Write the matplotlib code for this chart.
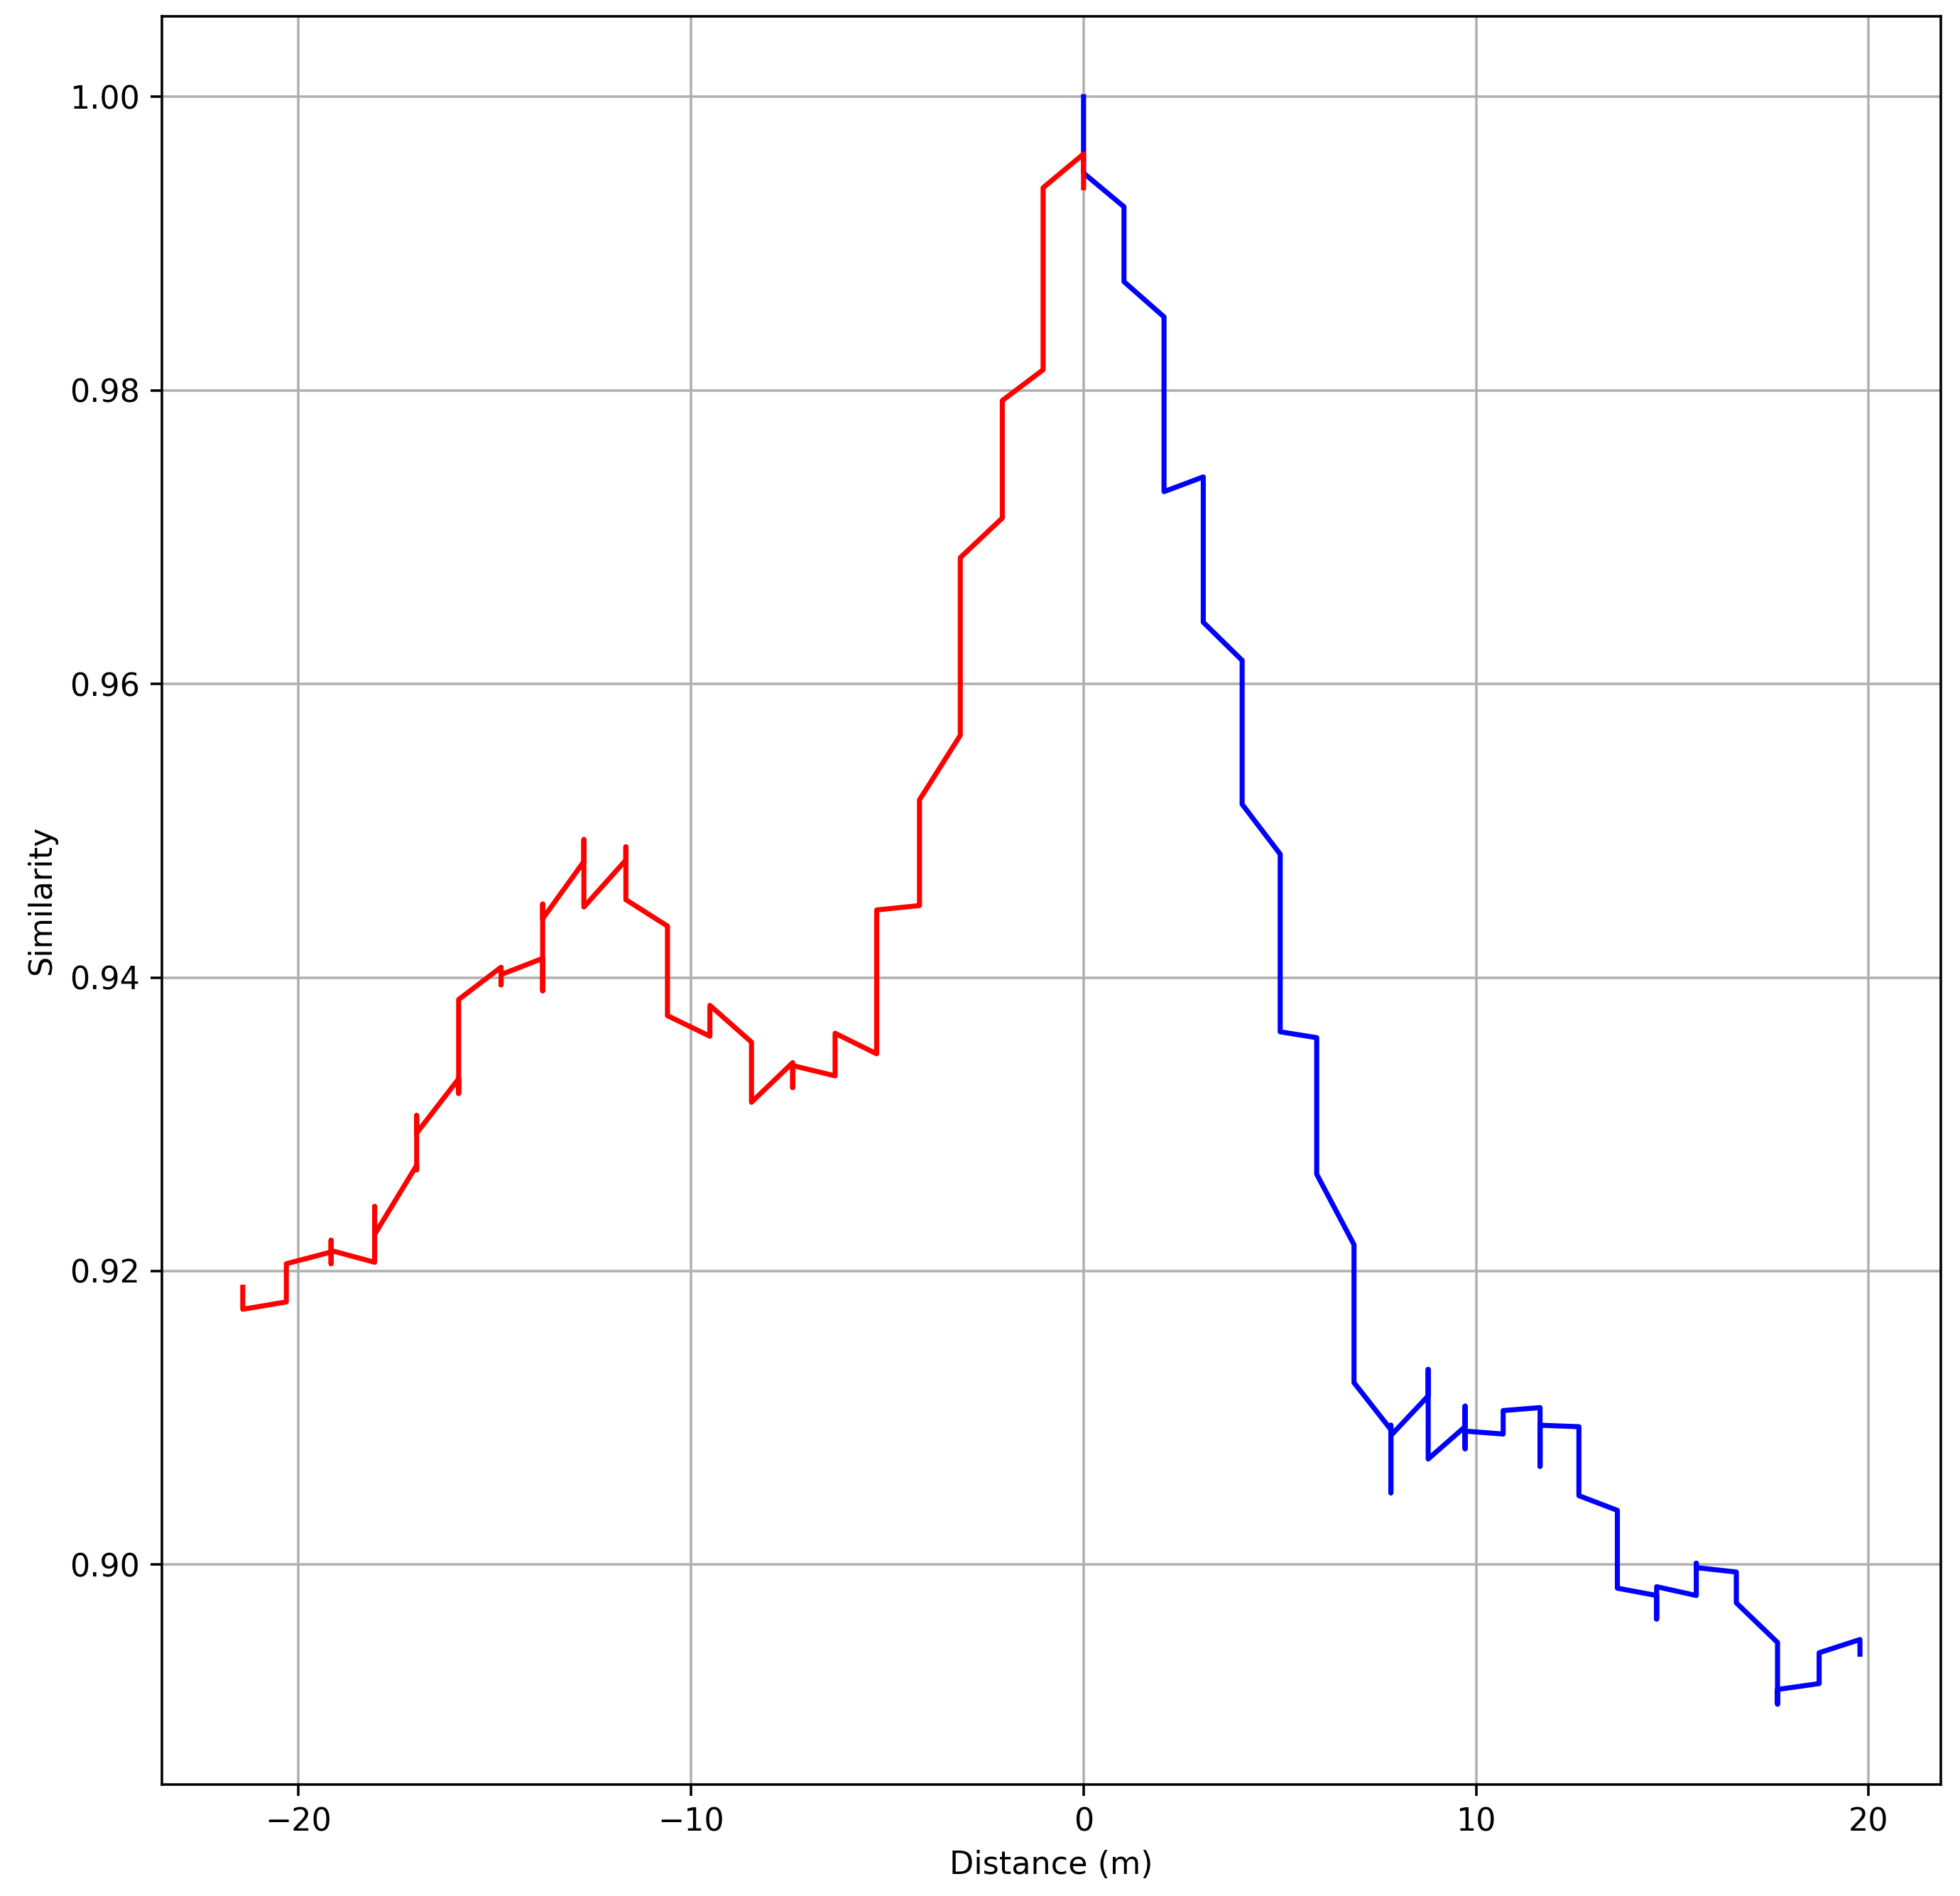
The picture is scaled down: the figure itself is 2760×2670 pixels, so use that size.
import matplotlib
matplotlib.use("Agg")
import matplotlib.pyplot as plt

# Station positions (m) and the similarity values visited at each station, in path order
red_x = [-21.42, -20.31, -19.17, -18.06, -16.99, -15.92, -14.84, -13.78, -12.73, -11.66,
         -10.60, -9.52, -8.46, -7.41, -6.33, -5.27, -4.18, -3.14, -2.07, -1.03, 0.0]
red_y = [
    [0.9189, 0.9174],
    [0.9179, 0.9205],
    [0.9213, 0.9221, 0.9205, 0.9214],
    [0.9206, 0.9244, 0.9225],
    [0.9272, 0.9269, 0.9306, 0.9294],
    [0.9331, 0.9321, 0.9385],
    [0.9407, 0.9395, 0.9402],
    [0.9413, 0.9391, 0.9450, 0.9440],
    [0.9479, 0.9494, 0.9448],
    [0.9480, 0.9489, 0.9453],
    [0.9435, 0.9374],
    [0.9360, 0.9381],
    [0.9356, 0.9315],
    [0.9342, 0.9325, 0.9340],
    [0.9333, 0.9362],
    [0.9348, 0.9446],
    [0.9449, 0.9521],
    [0.9565, 0.9686],
    [0.9713, 0.9793],
    [0.9814, 0.9938],
    [0.9961, 0.9938],
]

blue_x = [0.0, 1.03, 2.05, 3.05, 4.04, 5.01, 5.94, 6.89, 7.83, 8.78,
          9.72, 10.69, 11.63, 12.62, 13.60, 14.60, 15.61, 16.63, 17.68, 18.74, 19.78]
blue_y = [
    [1.0000, 0.9948],
    [0.9925, 0.9874],
    [0.9850, 0.9731],
    [0.9741, 0.9642],
    [0.9616, 0.9518],
    [0.9484, 0.9363],
    [0.9359, 0.9266],
    [0.9218, 0.9124],
    [0.9092, 0.9095, 0.9049, 0.9088],
    [0.9115, 0.9133, 0.9072],
    [0.9094, 0.9108, 0.9079, 0.9091],
    [0.9089, 0.9105],
    [0.9107, 0.9067, 0.9095],
    [0.9094, 0.9047],
    [0.9037, 0.8984],
    [0.8979, 0.8963, 0.8985],
    [0.8979, 0.9001, 0.8998],
    [0.8995, 0.8974],
    [0.8947, 0.8905, 0.8915],
    [0.8919, 0.8940],
    [0.8949, 0.8939],
]

x_label = "Distance (m)"
y_label = "Similarity"


def expand(xs, ys):
    px, py = [], []
    for x, seq in zip(xs, ys):
        for v in seq:
            px.append(x)
            py.append(v)
    return px, py


W, H, DPI = 2760, 2670, 320
fig = plt.figure(figsize=(W / DPI, H / DPI), dpi=DPI)
ax = fig.add_axes([228 / W, 157 / H, 2505 / W, 2490 / H])

bx, by = expand(blue_x, blue_y)
rx, ry = expand(red_x, red_y)
ax.plot(bx, by, color="blue", lw=1.6)
ax.plot(rx, ry, color="red", lw=1.6)

ax.grid(True)
ax.set_xlabel(x_label)
ax.set_ylabel(y_label)

fig.savefig("out.png", dpi=DPI)
